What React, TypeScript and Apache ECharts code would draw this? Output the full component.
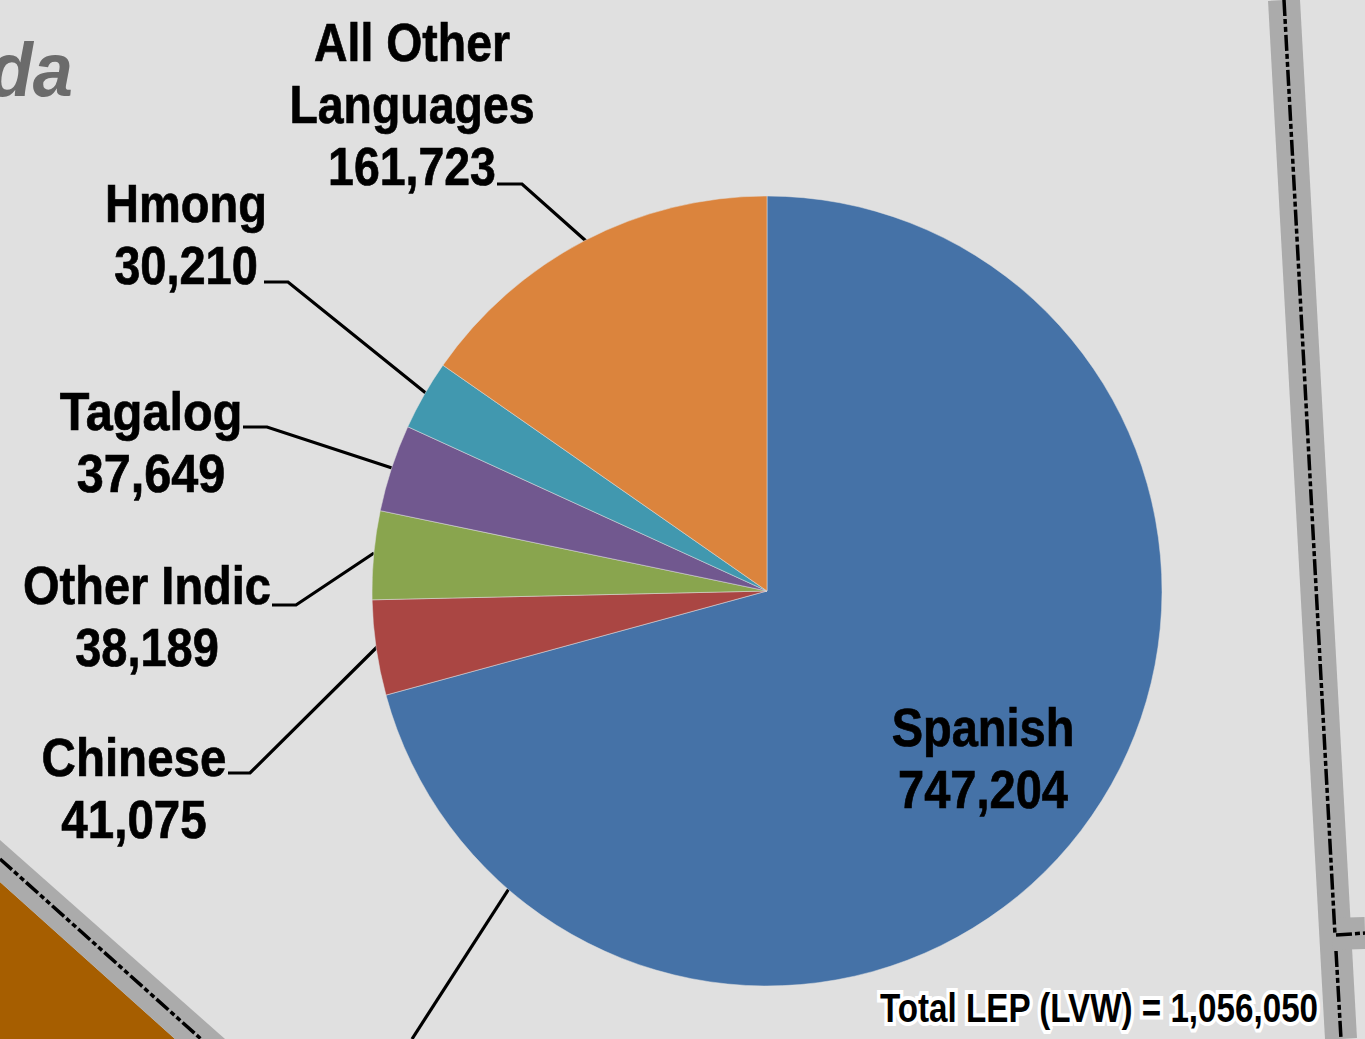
import React, { useEffect, useRef } from "react";
import * as echarts from "echarts";

const languages = ["Spanish", "Chinese", "Other Indic", "Tagalog", "Hmong", "All Other\nLanguages"];
const speakers = [747204, 41075, 38189, 37649, 30210, 161723];
const sliceColors = ["#4572A7", "#AA4643", "#89A54E", "#71588F", "#4198AF", "#DB843D"];
const totalLabel = "Total LEP (LVW) = 1,056,050";

const labelCentres: [number, number][] = [
  [983, 758.5], [134, 788], [147, 616], [151, 442], [186, 234], [412, 104],
];
const labelScales = [0.87, 0.88, 0.87, 0.9, 0.87, 0.86];
const leaderLines: ([number, number][] | null)[] = [
  null,
  [[228, 773], [250, 773], [378, 646]],
  [[272, 605], [296, 605], [374, 553]],
  [[243, 427], [267, 427], [392, 468]],
  [[264, 282], [288, 282], [427, 394]],
  [[497, 184], [522, 184], [586, 241]],
];

const FONT = "'Liberation Sans', Arial, sans-serif";
const DASH = [16, 3, 5, 3, 5, 3];

function fmt(n: number) {
  return n.toLocaleString("en-US");
}

export default function App() {
  const ref = useRef<HTMLDivElement>(null);
  useEffect(() => {
    const chart = echarts.init(ref.current!, undefined, { renderer: "svg", width: 1365, height: 1039 });
    const road = { stroke: "#ababab", lineWidth: 32, fill: "none" };
    const rail = { stroke: "#000", lineWidth: 3.5, lineDash: DASH, fill: "none" };
    const labelTexts = languages.map((name, i) => ({
      type: "text",
      z: 10,
      x: labelCentres[i][0],
      y: labelCentres[i][1],
      scaleX: labelScales[i],
      style: {
        text: `${name}\n${fmt(speakers[i])}`,
        fill: "#000",
        stroke: "#000",
        lineWidth: 0.7,
        align: "center",
        verticalAlign: "middle",
        font: `bold 54px ${FONT}`,
        lineHeight: 62,
      },
    }));
    const leaders = leaderLines.filter(Boolean).map((points) => ({
      type: "polyline",
      z: 1,
      shape: { points },
      style: { stroke: "#000", lineWidth: 3.2, fill: "none" },
    }));
    chart.setOption({
      animation: false,
      backgroundColor: "#e0e0e0",
      graphic: [
        { type: "polygon", z: 0, shape: { points: [[0, 882], [175, 1039], [0, 1039]] }, style: { fill: "#A65E00" } },
        { type: "polygon", z: 0, shape: { points: [[0, 840], [225, 1039], [175, 1039], [0, 882]] }, style: { fill: "#ababab" } },
        { type: "line", z: 1, shape: { x1: 0, y1: 859, x2: 201, y2: 1039 }, style: rail },
        { type: "line", z: 0, shape: { x1: 1284, y1: 0, x2: 1341, y2: 1039 }, style: road },
        { type: "line", z: 0, shape: { x1: 1332, y1: 934, x2: 1365, y2: 933 }, style: road },
        { type: "line", z: 1, shape: { x1: 1284, y1: 0, x2: 1335, y2: 935 }, style: rail },
        { type: "line", z: 1, shape: { x1: 1336, y1: 935, x2: 1365, y2: 933 }, style: rail },
        { type: "line", z: 1, shape: { x1: 1336, y1: 951, x2: 1341, y2: 1039 }, style: rail },
        { type: "line", z: 1, shape: { x1: 510, y1: 887, x2: 412, y2: 1039 }, style: { stroke: "#000", lineWidth: 3.2 } },
        ...leaders,
        ...labelTexts,
        {
          type: "text", z: 1, x: 73, y: 108, scaleX: 0.95,
          style: {
            text: "da", fill: "#6b6b6b", align: "right", verticalAlign: "bottom",
            font: `italic bold 76px ${FONT}`,
          },
        },
        {
          type: "text", z: 10, x: 1099, y: 1008, scaleX: 0.83,
          style: {
            text: totalLabel, fill: "#000", align: "center", verticalAlign: "middle",
            font: `bold 40px ${FONT}`, stroke: "#fff", lineWidth: 8,
          },
        },
      ],
      series: [
        {
          type: "pie",
          center: [767, 591],
          radius: [0, 395],
          startAngle: 90,
          clockwise: true,
          avoidLabelOverlap: false,
          label: { show: false },
          labelLine: { show: false },
          itemStyle: { borderColor: "#e0e0e0", borderWidth: 0.5 },
          data: languages.map((name, i) => ({
            name,
            value: speakers[i],
            itemStyle: { color: sliceColors[i] },
          })),
        },
      ],
    });
    return () => chart.dispose();
  }, []);
  return <div ref={ref} style={{ position: "fixed", left: 0, top: 0, width: 1365, height: 1039 }} />;
}
